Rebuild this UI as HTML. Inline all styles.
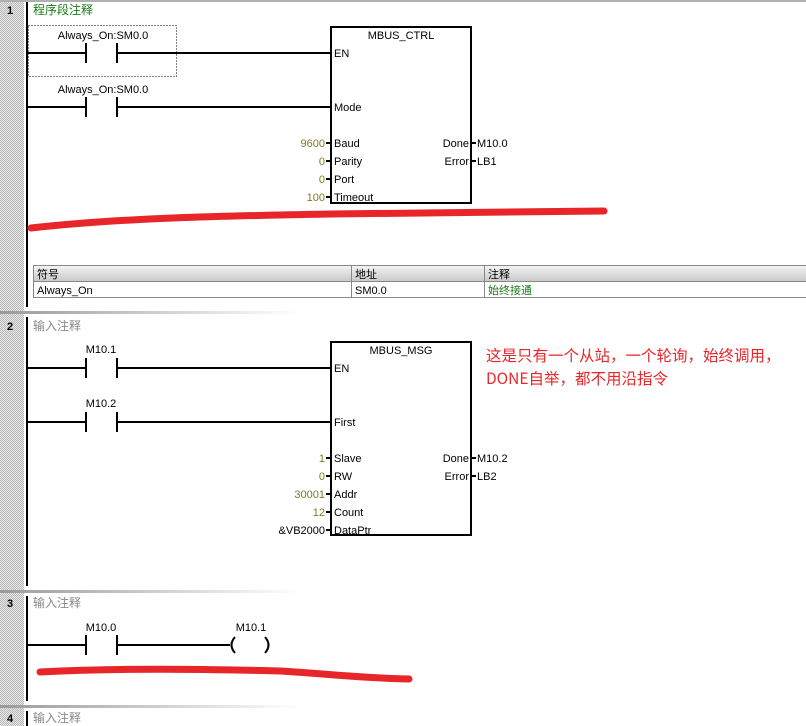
<!DOCTYPE html>
<html><head><meta charset="utf-8"><style>
html,body{margin:0;padding:0;background:#fff;}
svg{display:block;}
text{font-family:"Liberation Sans","Noto Sans CJK SC",sans-serif;font-size:11px;fill:#000;}
.cn{font-family:"Noto Sans CJK SC","WenQuanYi Zen Hei",sans-serif;}
.y{fill:#807a20;}
</style></head><body>
<svg width="806" height="726" viewBox="0 0 806 726" xmlns="http://www.w3.org/2000/svg">
<defs>
<pattern id="chk" width="2" height="2" patternUnits="userSpaceOnUse">
<rect width="2" height="2" fill="#e8e8e8"/><rect width="1" height="1" fill="#b8b8b8"/><rect x="1" y="1" width="1" height="1" fill="#b8b8b8"/>
</pattern>
<linearGradient id="sep" x1="0" x2="1"><stop offset="0" stop-color="#9a9a9a"/><stop offset="1" stop-color="#ffffff"/></linearGradient>
<linearGradient id="hdr" x1="0" x2="0" y1="0" y2="1"><stop offset="0" stop-color="#f4f4f4"/><stop offset="1" stop-color="#c8c8c8"/></linearGradient>
</defs>
<rect x="0" y="0" width="24" height="726" fill="url(#chk)"/>
<rect x="0" y="0" width="806" height="2" fill="#b0b0b0"/>
<rect x="0" y="311" width="300" height="3" fill="url(#sep)"/>
<rect x="0" y="590" width="300" height="3" fill="url(#sep)"/>
<rect x="0" y="705" width="300" height="3" fill="url(#sep)"/>
<rect x="26" y="2" width="2" height="305" fill="#000"/>
<rect x="26" y="317" width="2" height="269" fill="#000"/>
<rect x="26" y="596" width="2" height="105" fill="#000"/>
<rect x="26" y="711" width="2" height="15" fill="#000"/>
<text x="7" y="14" style="font-weight:bold">1</text>
<text x="7" y="330" style="font-weight:bold">2</text>
<text x="7" y="607" style="font-weight:bold">3</text>
<text x="7" y="722" style="font-weight:bold">4</text>
<text class="cn" x="33" y="14" style="fill:#1a7a1a;font-size:12px">程序段注释</text>
<text class="cn" x="33" y="330" style="fill:#888;font-size:12px">输入注释</text>
<text class="cn" x="33" y="607" style="fill:#888;font-size:12px">输入注释</text>
<text class="cn" x="33" y="722" style="fill:#888;font-size:12px">输入注释</text>

<g stroke="#000" stroke-width="2" fill="none">
<line x1="28" y1="53" x2="86" y2="53"/><line x1="117" y1="53" x2="331" y2="53"/>
<line x1="86" y1="43" x2="86" y2="63"/><line x1="117" y1="43" x2="117" y2="63"/>
<line x1="28" y1="107" x2="86" y2="107"/><line x1="117" y1="107" x2="331" y2="107"/>
<line x1="86" y1="97" x2="86" y2="117"/><line x1="117" y1="97" x2="117" y2="117"/>
<rect x="331" y="27" width="140" height="176"/>
<line x1="28" y1="368" x2="86" y2="368"/><line x1="117" y1="368" x2="331" y2="368"/>
<line x1="86" y1="358" x2="86" y2="378"/><line x1="117" y1="358" x2="117" y2="378"/>
<line x1="28" y1="422" x2="86" y2="422"/><line x1="117" y1="422" x2="331" y2="422"/>
<line x1="86" y1="412" x2="86" y2="432"/><line x1="117" y1="412" x2="117" y2="432"/>
<rect x="331" y="342" width="140" height="193"/>
<line x1="28" y1="645" x2="86" y2="645"/><line x1="117" y1="645" x2="230" y2="645"/>
<line x1="86" y1="635" x2="86" y2="655"/><line x1="117" y1="635" x2="117" y2="655"/>
<path d="M235 637 Q228 645 235 653"/><path d="M265 637 Q272 645 265 653"/>
</g>
<g stroke="#000" stroke-width="2">
<line x1="326" y1="143" x2="331" y2="143"/><line x1="326" y1="161" x2="331" y2="161"/><line x1="326" y1="179" x2="331" y2="179"/><line x1="326" y1="197" x2="331" y2="197"/>
<line x1="471" y1="143" x2="476" y2="143"/><line x1="471" y1="161" x2="476" y2="161"/>
<line x1="326" y1="458" x2="331" y2="458"/><line x1="326" y1="476" x2="331" y2="476"/><line x1="326" y1="494" x2="331" y2="494"/><line x1="326" y1="512" x2="331" y2="512"/><line x1="326" y1="530" x2="331" y2="530"/>
<line x1="471" y1="458" x2="476" y2="458"/><line x1="471" y1="476" x2="476" y2="476"/>
</g>
<rect x="28.5" y="25.5" width="148" height="51" fill="none" stroke="#000" stroke-width="1" stroke-dasharray="1,2"/>

<text x="103" y="39" text-anchor="middle">Always_On:SM0.0</text>
<text x="103" y="93" text-anchor="middle">Always_On:SM0.0</text>
<text x="401" y="39" text-anchor="middle">MBUS_CTRL</text>
<text x="334" y="57">EN</text><text x="334" y="111">Mode</text>
<text x="334" y="147">Baud</text><text x="334" y="165">Parity</text><text x="334" y="183">Port</text><text x="334" y="201">Timeout</text>
<text x="325" y="147" text-anchor="end" class="y">9600</text><text x="325" y="165" text-anchor="end" class="y">0</text><text x="325" y="183" text-anchor="end" class="y">0</text><text x="325" y="201" text-anchor="end" class="y">100</text>
<text x="469" y="147" text-anchor="end">Done</text><text x="469" y="165" text-anchor="end">Error</text>
<text x="477" y="147">M10.0</text><text x="477" y="165">LB1</text>

<path d="M31 228 C120 218 220 216 330 214 C450 212 530 211 604 211" stroke="#e8262a" stroke-width="7" fill="none" stroke-linecap="round"/>

<rect x="33.5" y="265.5" width="773" height="16" fill="url(#hdr)" stroke="#888"/>
<rect x="33.5" y="281.5" width="773" height="16" fill="#fff" stroke="#888"/>
<line x1="351.5" y1="265" x2="351.5" y2="298" stroke="#888"/>
<line x1="484.5" y1="265" x2="484.5" y2="298" stroke="#888"/>
<text class="cn" x="37" y="278">符号</text><text class="cn" x="355" y="278">地址</text><text class="cn" x="488" y="278">注释</text>
<text x="37" y="294">Always_On</text><text x="355" y="294">SM0.0</text><text class="cn" x="488" y="294" style="fill:#1a7a1a">始终接通</text>

<text x="101" y="353" text-anchor="middle">M10.1</text>
<text x="101" y="407" text-anchor="middle">M10.2</text>
<text x="401" y="354" text-anchor="middle">MBUS_MSG</text>
<text x="334" y="372">EN</text><text x="334" y="426">First</text>
<text x="334" y="462">Slave</text><text x="334" y="480">RW</text><text x="334" y="498">Addr</text><text x="334" y="516">Count</text><text x="334" y="534">DataPtr</text>
<text x="325" y="462" text-anchor="end" class="y">1</text><text x="325" y="480" text-anchor="end" class="y">0</text><text x="325" y="498" text-anchor="end" class="y">30001</text><text x="325" y="516" text-anchor="end" class="y">12</text><text x="325" y="534" text-anchor="end">&amp;VB2000</text>
<text x="469" y="462" text-anchor="end">Done</text><text x="469" y="480" text-anchor="end">Error</text>
<text x="477" y="462">M10.2</text><text x="477" y="480">LB2</text>
<text class="cn" x="486" y="361" style="fill:#e8262a;font-size:15.5px">这是只有一个从站，一个轮询，始终调用，</text>
<text class="cn" x="486" y="384" style="fill:#e8262a;font-size:15.5px">DONE自举，都不用沿指令</text>

<text x="101" y="631" text-anchor="middle">M10.0</text>
<text x="251" y="631" text-anchor="middle">M10.1</text>
<path d="M40 672 C120 668 200 669 280 671 C330 674 360 678 409 679" stroke="#e8262a" stroke-width="7" fill="none" stroke-linecap="round"/>
</svg>
</body></html>
